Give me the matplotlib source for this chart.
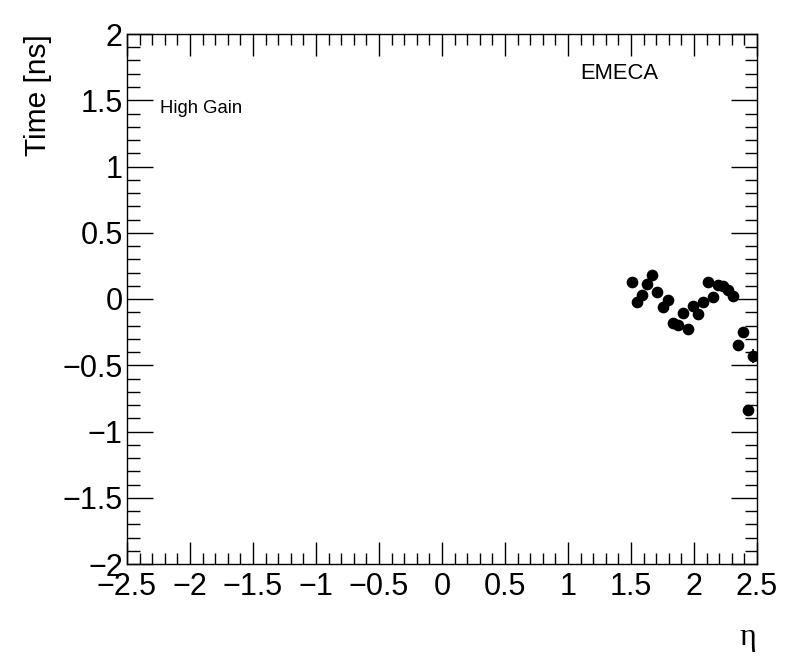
"""
EMECA high-gain timing vs eta, ROOT-style frame.
"""
import numpy as np
import matplotlib
matplotlib.use('Agg')
import matplotlib.pyplot as plt
from matplotlib.ticker import MultipleLocator

# Data
eta = [1.51, 1.55, 1.59, 1.63, 1.67, 1.71, 1.75, 1.79, 1.83, 1.87,
       1.91, 1.95, 1.99, 2.03, 2.07, 2.11, 2.15, 2.19, 2.23, 2.27,
       2.31, 2.35, 2.39, 2.43, 2.47]
time_ns = [0.126, -0.025, 0.030, 0.113, 0.181, 0.050, -0.058, -0.008, -0.179, -0.199,
           -0.108, -0.229, -0.053, -0.116, -0.020, 0.131, 0.013, 0.106, 0.098, 0.068,
           0.023, -0.350, -0.249, -0.838, -0.430]
time_err = [0.01, 0.01, 0.01, 0.01, 0.01, 0.01, 0.01, 0.01, 0.01, 0.01,
            0.01, 0.01, 0.01, 0.01, 0.01, 0.01, 0.01, 0.01, 0.01, 0.01,
            0.01, 0.015, 0.015, 0.035, 0.05]

plt.rcParams['font.family'] = ['Liberation Sans', 'DejaVu Sans']

W, H = 796, 672
fig = plt.figure(figsize=(W / 100, H / 100), dpi=100)
ax = fig.add_axes([127 / W, (H - 564) / H, 630 / W, 530 / H])

ax.errorbar(eta, time_ns, yerr=time_err, fmt='o', color='black',
            markersize=7.4, elinewidth=1.2, capsize=0)

ax.set_xlim(-2.5, 2.5)
ax.set_ylim(-2, 2)
ax.xaxis.set_major_locator(MultipleLocator(0.5))
ax.xaxis.set_minor_locator(MultipleLocator(0.1))
ax.yaxis.set_major_locator(MultipleLocator(0.5))
ax.yaxis.set_minor_locator(MultipleLocator(0.1))
ax.tick_params(which='both', direction='in', top=True, right=True,
               width=1, labelsize=22, color='black')
ax.tick_params(axis='x', which='major', length=16, pad=6)
ax.tick_params(axis='x', which='minor', length=8)
ax.tick_params(axis='y', which='major', length=19, pad=3)
ax.tick_params(axis='y', which='minor', length=9)
for s in ax.spines.values():
    s.set_linewidth(1)

def fmt(v, _):
    s = f'{v:g}'
    return s.replace('-', '\u2212')
ax.xaxis.set_major_formatter(plt.FuncFormatter(fmt))
ax.yaxis.set_major_formatter(plt.FuncFormatter(fmt))

ax.text(-2.24, 1.44, 'High Gain', fontsize=13.3, va='center', ha='left')
ax.text(1.10, 1.70, 'EMECA', fontsize=15.8, va='center', ha='left')

fig.text(38 / W, (H - 34) / H, 'Time [ns]', rotation=90, fontsize=21.5,
         ha='center', va='top')
fig.text(756 / W, (H - 652) / H, '\u03b7', fontsize=23, ha='right',
         va='bottom', family=['Liberation Serif', 'DejaVu Serif'])

fig.savefig('out.png', dpi=100)
